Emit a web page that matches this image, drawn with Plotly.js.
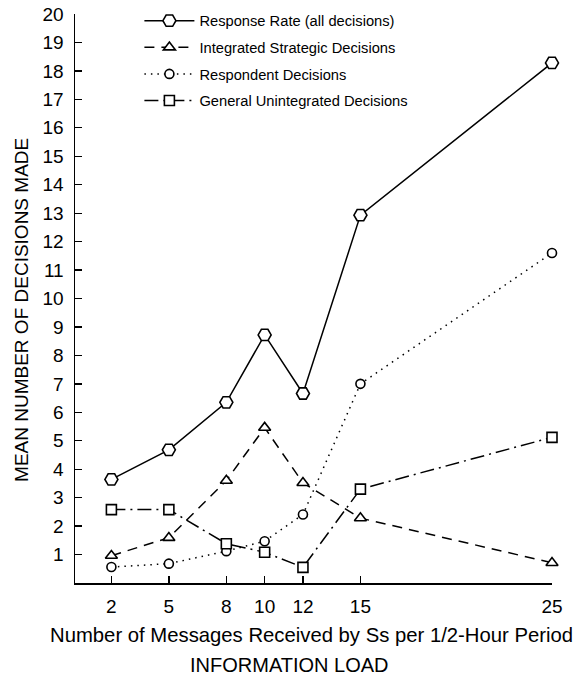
<!DOCTYPE html>
<html>
<head>
<meta charset="utf-8">
<script src="https://cdn.plot.ly/plotly-3.0.1.min.js"></script>
<style>
html, body { margin: 0; padding: 0; background: #fff; }
#chart { width: 580px; height: 682px; }
</style>
</head>
<body>
<div id="chart"></div>
<script>
const loads = [2, 5, 8, 10, 12, 15, 25];
const tickLabels = ['2', '5', '8', '10', '12', '15', '25'];
const yTicks = [1,2,3,4,5,6,7,8,9,10,11,12,13,14,15,16,17,18,19,20];

const responseRate = [3.64, 4.68, 6.35, 8.72, 6.66, 12.93, 18.28];
const integratedStrategic = [0.96, 1.59, 3.6, 5.46, 3.52, 2.28, 0.71];
const respondentDecisions = [0.56, 0.68, 1.12, 1.47, 2.41, 7.0, 11.6];
const generalUnintegrated = [2.58, 2.58, 1.38, 1.08, 0.55, 3.3, 5.12];

const seriesNames = [
  'Response Rate (all decisions)',
  'Integrated Strategic Decisions',
  'Respondent Decisions',
  'General Unintegrated Decisions'
];

const FONT = '"Liberation Sans", Arial, Helvetica, sans-serif';

function trace(name, yvals, symbol, size, dash, group) {
  return {
    type: 'scatter', mode: 'lines+markers', name: name,
    x: loads, y: yvals, legendgroup: group,
    cliponaxis: false,
    line: { color: '#000', width: 1.5, dash: dash },
    marker: { symbol: symbol, size: size, color: '#fff', line: { color: '#000', width: 1.6 } }
  };
}

const data = [
  trace(seriesNames[0], responseRate, 'hexagon2', 13, 'solid', 'a'),
  trace(seriesNames[1], integratedStrategic, 'triangle-up', 10.5, '10px,7px', 'b'),
  trace(seriesNames[2], respondentDecisions, 'circle', 9, '1.5px,5px', 'c'),
  trace(seriesNames[3], generalUnintegrated, 'square', 10, '14px,5px,2px,5px', 'd')
];

const layout = {
  width: 580, height: 682,
  margin: { l: 75, r: 28, t: 14, b: 98.5, autoexpand: false },
  paper_bgcolor: '#fff', plot_bgcolor: '#fff',
  font: { family: FONT, color: '#000', size: 18 },
  showlegend: true,
  legend: {
    x: 0.135, y: 1.0165, xanchor: 'left', yanchor: 'top',
    bgcolor: 'rgba(0,0,0,0)', font: { family: FONT, size: 14.7, color: '#000' },
    itemwidth: 50, tracegroupgap: 4.5, traceorder: 'grouped'
  },
  xaxis: {
    range: [0.1, 25], tickvals: loads, ticktext: tickLabels,
    showline: true, linecolor: '#000', linewidth: 1.5,
    ticks: 'inside', ticklen: 7, tickwidth: 1.3, tickcolor: '#000',
    showgrid: false, zeroline: false, ticklabelstandoff: 6,
    tickfont: { family: FONT, size: 19, color: '#000' }
  },
  yaxis: {
    range: [0, 20], tickvals: yTicks,
    showline: true, linecolor: '#000', linewidth: 1.5,
    ticks: 'inside', ticklen: 7, tickwidth: 1.3, tickcolor: '#000',
    showgrid: false, zeroline: false, ticklabelstandoff: 6,
    tickfont: { family: FONT, size: 19, color: '#000' }
  },
  annotations: [
    { text: 'Number of Messages Received by Ss per 1/2-Hour Period', xref: 'paper', yref: 'paper',
      x: 0.495, y: -0.0922, xanchor: 'center', yanchor: 'middle', showarrow: false,
      font: { family: FONT, size: 20.3, color: '#000' } },
    { text: 'INFORMATION LOAD', xref: 'paper', yref: 'paper',
      x: 0.449, y: -0.1449, xanchor: 'center', yanchor: 'middle', showarrow: false,
      font: { family: FONT, size: 20, color: '#000' } },
    { text: 'MEAN NUMBER OF DECISIONS MADE', xref: 'paper', yref: 'paper',
      x: -0.111, y: 0.48, xanchor: 'center', yanchor: 'middle', textangle: -90, showarrow: false,
      font: { family: FONT, size: 19, color: '#000' } }
  ]
};

Plotly.newPlot('chart', data, layout, { staticPlot: true, displayModeBar: false });
</script>
</body>
</html>
